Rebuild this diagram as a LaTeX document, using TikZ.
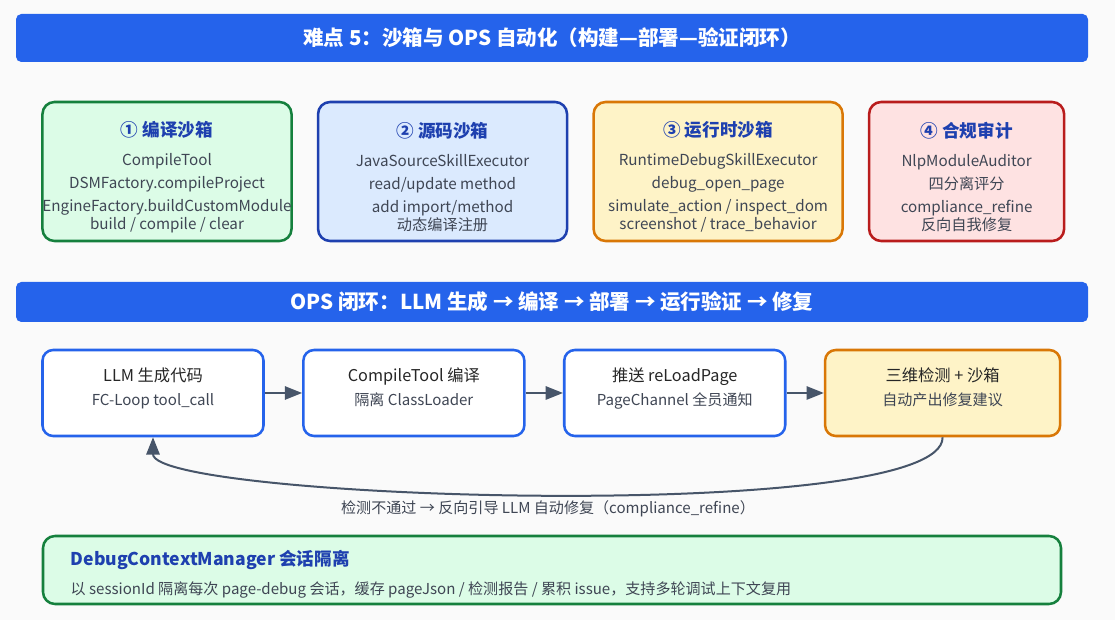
\documentclass[tikz,border=0pt]{standalone}
\usepackage{fontspec}
\setmainfont{Noto Sans CJK SC}
\usepackage{tikz}
\usetikzlibrary{arrows.meta, positioning}

\definecolor{barBlue}{HTML}{2563EB}
\definecolor{headBlue}{HTML}{1E40AF}
\definecolor{bodyGrey}{HTML}{3F4654}
\definecolor{arrGrey}{HTML}{475569}
\definecolor{pageBg}{HTML}{FAFAFA}
\definecolor{greenFill}{HTML}{DCFCE7}
\definecolor{greenLine}{HTML}{15803D}
\definecolor{blueFill}{HTML}{DBEAFE}
\definecolor{blueLine}{HTML}{1E40AF}
\definecolor{amberFill}{HTML}{FEF3C7}
\definecolor{amberLine}{HTML}{D97706}
\definecolor{redFill}{HTML}{FEE2E2}
\definecolor{redLine}{HTML}{B91C1C}

\newcommand{\cardHead}[1]{\rule{0pt}{20pt}{\fontsize{13.2}{13.5}\selectfont\bfseries\color{headBlue}#1}}
\newcommand{\flowSub}[1]{{\fontsize{11.3}{13}\selectfont\color{bodyGrey}#1}\rule[-9pt]{0pt}{0pt}}

\begin{document}
\begin{tikzpicture}[
  x=0.75pt, y=-0.75pt,
  node distance=18pt,
  bar/.style={rectangle, rounded corners=4pt, fill=barBlue, text=white,
              minimum width=804pt, align=center, font=\fontsize{15.4}{18}\selectfont\bfseries},
  card/.style={rectangle, rounded corners=9pt, line width=1.9pt,
               minimum width=186.75pt, minimum height=104.25pt, inner sep=0pt,
               align=center, text=bodyGrey, font=\fontsize{11.4}{13.5}\selectfont},
  greenCard/.style={card, fill=greenFill, draw=greenLine},
  blueCard/.style={card, fill=blueFill, draw=blueLine},
  amberCard/.style={card, fill=amberFill, draw=amberLine},
  redCard/.style={card, fill=redFill, draw=redLine, minimum width=146.25pt},
  flow/.style={rectangle, rounded corners=8pt, line width=1.9pt, fill=white, draw=barBlue,
               minimum width=165.75pt, minimum height=64.5pt, inner sep=0pt, align=center,
               text=black!85, font=\fontsize{12.2}{18}\selectfont},
  checkFlow/.style={flow, fill=amberFill, draw=amberLine, minimum width=176.25pt},
  arr/.style={-{Triangle[length=13pt, width=10pt]}, line width=1.5pt, draw=arrGrey},
  hd/.style={font=\fontsize{13.2}{14}\selectfont\bfseries, text=headBlue}
]
\useasboundingbox[fill=pageBg] (0,0) rectangle (1115,620);

% top banner
\node[bar, minimum height=36pt] (t1) at (552,38) {难点 5：沙箱与 OPS 自动化（构建—部署—验证闭环）};

% the four sandboxes
\node[greenCard] (s1) at (167,171.5) {\cardHead{① 编译沙箱}\\[8.25pt]CompileTool\\[3.75pt]DSMFactory.compileProject\\[3.75pt]EngineFactory.buildCustomModule\\build / compile / clear};
\node[blueCard, right=of s1] (s2) {\cardHead{② 源码沙箱}\\[8.25pt]JavaSourceSkillExecutor\\[3.75pt]read/update method\\[3.75pt]add import/method\\动态编译注册};
\node[amberCard, right=of s2] (s3) {\cardHead{③ 运行时沙箱}\\[8.25pt]RuntimeDebugSkillExecutor\\[3.75pt]debug\_open\_page\\[3.75pt]simulate\_action / inspect\_dom\\screenshot / trace\_behavior};
\node[redCard, right=of s3] (s4) {\cardHead{④ 合规审计}\\[8.25pt]NlpModuleAuditor\\[3.75pt]四分离评分\\[3.75pt]compliance\_refine\\反向自我修复};

% loop banner
\node[bar, minimum height=30pt] (t2) at (552,302) {OPS 闭环：LLM 生成 → 编译 → 部署 → 运行验证 → 修复};

% loop steps
\node[flow] (f1) at (153,393) {LLM 生成代码\\\flowSub{FC-Loop tool\_call}};
\node[flow, right=28pt of f1] (f2) {CompileTool 编译\\\flowSub{隔离 ClassLoader}};
\node[flow, right=28pt of f2] (f3) {推送 reLoadPage\\\flowSub{PageChannel 全员通知}};
\node[checkFlow, right=28pt of f3] (f4) {三维检测 + 沙箱\\\flowSub{自动产出修复建议}};
\foreach \i/\j in {1/2,2/3,3/4} \draw[arr] (f\i) -- (f\j);

\draw[arr] (f4.south) .. controls (944,525) and (153,500) .. (f1.south);
\node[text=bodyGrey, font=\fontsize{11.3}{13}\selectfont] (fb) at (548,509) {检测不通过 → 反向引导 LLM 自动修复（compliance\_refine）};

% session box
\node[rectangle, rounded corners=9pt, line width=1.9pt, fill=greenFill, draw=greenLine,
      minimum width=763.5pt, minimum height=51pt] (dm) at (552,570) {};
\node[hd, anchor=west] (dmh) at (66,560) {DebugContextManager 会话隔离};
\node[anchor=west, text=bodyGrey, font=\fontsize{11.3}{13}\selectfont] (dmt) at (66,590)
  {以 sessionId 隔离每次 page-debug 会话，缓存 pageJson / 检测报告 / 累积 issue，支持多轮调试上下文复用};
\end{tikzpicture}
\end{document}
